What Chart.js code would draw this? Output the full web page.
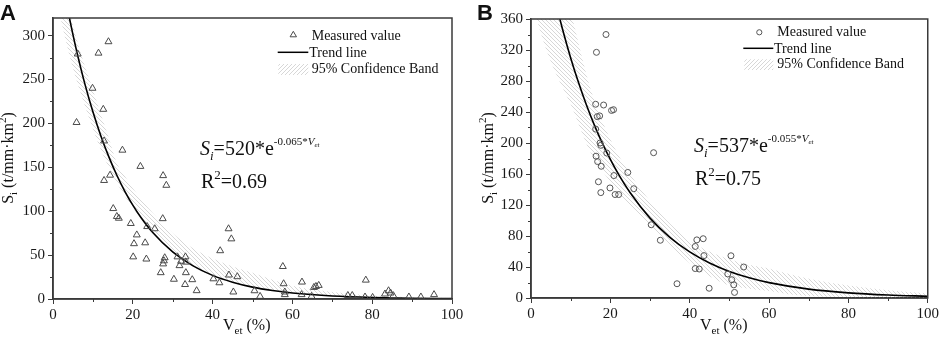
<!DOCTYPE html>
<html><head><meta charset="utf-8">
<script src="https://cdn.jsdelivr.net/npm/chart.js@4.4.1/dist/chart.umd.min.js"></script>
<style>
html,body{margin:0;padding:0;background:#fff;}
#wrap{position:relative;width:941px;height:338px;overflow:hidden;background:#fff;}
.p{position:absolute;top:0;height:338px;}
</style></head><body>
<div id="wrap">
<div class="p" style="left:0;width:470px"><canvas id="cA"></canvas></div>
<div class="p" style="left:470px;width:471px"><canvas id="cB"></canvas></div>
</div>
<script>
// ---------- Panel A data ----------
const aMeasuredX = [6.2,5.9,11.4,13.9,9.9,12.6,12.8,17.4,14.3,12.8,21.9,27.6,28.4,15.1,16.0,16.5,19.5,27.5,21.0,23.6,25.5,20.3,23.1,20.1,23.4,28.0,27.8,27.6,27.0,30.3,31.2,32.1,31.7,33.2,33.3,33.3,33.1,34.9,36.0,44.0,44.7,41.9,40.2,41.7,44.1,46.2,45.2,50.5,51.9,57.6,57.8,58.1,58.1,62.4,62.3,64.8,65.4,65.9,66.6,73.9,75.0,78.4,78.2,80.1,83.2,84.1,84.6,85.3,89.2,92.2,95.5];
const aMeasuredY = [279,201,280,293,240,216,180,169.5,141,135,151,140.5,129.5,103,94,92,86,91.5,73,82.5,80,63,64,48,45.5,47,43.5,40,30,22.5,48,43,38,48,42,30,16.5,22,9.5,80,68.5,55,23,18.5,27.3,25.4,8,9.4,3,37,17.4,8,5,19.3,5,3,13.2,14.3,15.5,4,4,21.5,2.3,1.8,5.7,9.4,6.8,3.8,2.3,2.3,5];
const aTrendX = [3,4,5,6,8,10,12,14,16,18,20,22,25,30,35,40,45,50,55,60,70,80,90,100];
const aTrendY = [345.6,322.5,301,280.9,244.7,213.2,185.7,161.8,140.9,122.7,106.9,93.1,75.7,53.6,38.0,26.9,19.1,13.5,9.6,6.8,3.4,1.7,0.85,0.43];
const aBandX = [0,2,4,6,8,10,12,14,16,18,20,25,30,35,40,45,50,60,70,80,90,100];
const aBandLow = [360,318,280,248,220,194,170,150,132,117,104,74,52,37,26,19,13.5,6.8,3.4,1.7,0.85,0.43];
const aBandHigh = [420,372,330,295,265,238,210,183,155,140,126,98,75,58,46,37,30,15,8,4,2,1];
const aXTicks = [0,20,40,60,80,100];
const aYTicks = [0,50,100,150,200,250,300];

// ---------- Panel B data ----------
const bMeasuredX = [18.9,16.5,16.3,18.3,20.8,20.3,17.3,16.7,16.3,17.4,17.6,19.1,30.9,16.4,16.8,17.7,20.9,24.4,17.0,19.9,25.9,17.6,21.2,22.1,30.3,32.6,41.4,41.8,43.4,43.6,41.4,42.4,36.8,44.9,50.4,53.6,49.6,50.6,51.1,51.3];
const bMeasuredY = [340,317,250,249,243,242,235,234,218,200,197,187,187.5,183,176,170,158,162,150,142,141,136,133.5,133.5,94.5,74.5,66.5,75,76.5,54.7,38,37.4,18.4,12.6,54.5,40,31,23.6,17,7.2];
const bTrendX = [6,8,10,12,14,16,18,20,22,25,30,35,40,45,50,55,60,70,80,90,100];
const bTrendY = [386,345.8,309.8,277.6,248.6,222.7,199.5,178.8,160.1,135.8,103.1,78.3,59.5,45.2,34.3,26.1,19.8,11.4,6.6,3.8,2.2];
const bBandX = [0,2,5,10,15,20,25,30,35,40,45,50,55,60,65,70,80,90,100];
const bBandLow = [390,350,305,250,188,150,118,92,68,45,28,16,12,9,5,2.5,0.8,0.2,0];
const bBandHigh = [580,520,470,370,270,205,160,125,96,74,60,50,43,38,31,25,16,10,6];
const bXTicks = [0,20,40,60,80,100];
const bYTicks = [0,40,80,120,160,200,240,280,320,360];

const SERIF = '"Liberation Serif","Times New Roman",serif';
const SANS = '"Liberation Sans",Arial,sans-serif';

function hatch(dir){
  const c = document.createElement('canvas'); c.width = 4; c.height = 4;
  const g = c.getContext('2d');
  g.strokeStyle = '#d2d2d2'; g.lineWidth = 0.9;
  g.beginPath();
  if (dir === '\\') {
    g.moveTo(-1,-1); g.lineTo(5,5); g.moveTo(-1,3); g.lineTo(1,5); g.moveTo(3,-1); g.lineTo(5,1);
  } else {
    g.moveTo(-1,5); g.lineTo(5,-1); g.moveTo(-1,1); g.lineTo(1,-1); g.moveTo(3,5); g.lineTo(5,3);
  }
  g.stroke();
  return g.createPattern(c,'repeat');
}
const bandPattern = hatch('\\');

function pts(xs, ys){ return xs.map((x,i)=>({x:x, y:ys[i]})); }

function rich(ctx, x, y, parts, align){
  let w = 0;
  parts.forEach(p => { ctx.font = p.f; p.w = ctx.measureText(p.t).width; w += p.w; });
  let cx = align === 'center' ? x - w/2 : x;
  parts.forEach(p => { ctx.font = p.f; ctx.fillText(p.t, cx, y + (p.dy||0)); cx += p.w; });
  return w;
}

function makePanel(id, o){
  const ctx = document.getElementById(id).getContext('2d');
  const legendHatch = hatch('/');
  const deco = {
    id: 'deco',
    afterDraw(chart){
      const c = chart.ctx, a = chart.chartArea;
      const xs = chart.scales.x, ys = chart.scales.y;
      c.save();
      c.strokeStyle = '#3a3a3a'; c.lineWidth = 1.5;
      c.strokeRect(a.left, a.top, a.right - a.left, a.bottom - a.top);
      c.lineWidth = 1; c.strokeStyle = '#3a3a3a';
      c.beginPath();
      o.xMinor.forEach(v => { const px = Math.round(xs.getPixelForValue(v)) + 0.5; c.moveTo(px, a.bottom); c.lineTo(px, a.bottom + 3); });
      o.yMinor.forEach(v => { const py = Math.round(ys.getPixelForValue(v)) + 0.5; c.moveTo(a.left, py); c.lineTo(a.left - 3, py); });
      c.stroke();
      c.fillStyle = '#111'; c.textBaseline = 'alphabetic'; c.textAlign = 'left';
      c.font = 'bold 22px ' + SANS;
      c.fillText(o.letter, o.letterX, 20);
      const F16 = '16px ' + SERIF, F11 = '11px ' + SERIF;
      rich(c, o.xTitleX, 330, [{t:'V', f:F16},{t:'et', f:F11, dy:4},{t:' (%)', f:F16}]);
      c.save();
      c.translate(o.yTitleX, 158); c.rotate(-Math.PI/2);
      rich(c, 0, 0, [{t:'S', f:F16},{t:'i', f:F11, dy:4},{t:' (t/mm\u00b7km', f:F16},{t:'2', f:F11, dy:-7},{t:')', f:F16}], 'center');
      c.restore();
      const E = '20px ' + SERIF, EI = 'italic 20px ' + SERIF, S13 = '13px ' + SERIF, SI13 = 'italic 13px ' + SERIF;
      rich(c, o.eqX, o.eqY, [{t:'S', f:EI},{t:'i', f:SI13, dy:5},{t:'=' + o.coef + '*e', f:E},{t:o.expo, f:'11px ' + SERIF, dy:-10},{t:'V', f:'italic 11px ' + SERIF, dy:-10},{t:'et', f:'italic 7px ' + SERIF, dy:-8}]);
      rich(c, o.eqX + 1, o.eqY + 33, [{t:'R', f:E},{t:'2', f:S13, dy:-9},{t:'=' + o.r2, f:E}]);
      const L = o.leg;
      c.font = '14px ' + SERIF;
      const ds = chart.data.datasets;
      c.strokeStyle = o.markColor; c.lineWidth = 1;
      if (o.marker === 'triangle') {
        c.beginPath(); c.moveTo(L.mx, L.my - 3.2); c.lineTo(L.mx + 3.2, L.my + 2.3); c.lineTo(L.mx - 3.2, L.my + 2.3); c.closePath(); c.stroke();
      } else {
        c.beginPath(); c.arc(L.mx, L.my, 2.6, 0, Math.PI*2); c.stroke();
      }
      c.fillText(ds[0].label, L.t1x, L.t1y);
      c.strokeStyle = '#000'; c.lineWidth = 1.5;
      c.beginPath(); c.moveTo(L.lx0, L.ly); c.lineTo(L.lx1, L.ly); c.stroke();
      c.fillText(ds[1].label, L.t2x, L.t2y);
      c.fillStyle = legendHatch;
      c.fillRect(L.bx0, L.by0, L.bx1 - L.bx0, L.by1 - L.by0);
      c.fillStyle = '#111';
      c.fillText(ds[2].label, L.t3x, L.t3y);
      c.restore();
    }
  };
  return new Chart(ctx, {
    type: 'line',
    data: {
      datasets: [
        { label: 'Measured value', data: pts(o.mx, o.my), showLine: false, pointStyle: o.marker,
          pointRadius: o.marker === 'triangle' ? 4 : 3, pointBorderColor: o.markColor, pointBackgroundColor: 'rgba(0,0,0,0)',
          pointBorderWidth: 1, order: 0 },
        { label: 'Trend line', data: pts(o.tx, o.ty), borderColor: '#000', borderWidth: 1.6, pointRadius: 0,
          cubicInterpolationMode: 'monotone', fill: false, order: 1 },
        { label: '95% Confidence Band', data: pts(o.bx, o.bh), borderWidth: 0, borderColor: 'rgba(0,0,0,0)', pointRadius: 0,
          cubicInterpolationMode: 'monotone', fill: '+1', backgroundColor: bandPattern, order: 2 },
        { label: 'band-low', data: pts(o.bx, o.bl), borderWidth: 0, borderColor: 'rgba(0,0,0,0)', pointRadius: 0,
          cubicInterpolationMode: 'monotone', fill: false, order: 3 }
      ]
    },
    options: {
      responsive: true, maintainAspectRatio: false, animation: false, devicePixelRatio: 1,
      layout: { padding: o.pad },
      plugins: { legend: { display: false }, tooltip: { enabled: false } },
      scales: {
        x: { type: 'linear', min: 0, max: 100,
          afterFit(s){ s.height = o.xH; },
          afterBuildTicks(s){ s.ticks = o.xTicks.map(v => ({value: v})); },
          ticks: { font: { family: SERIF, size: 15 }, color: '#1a1a1a', padding: 2, maxRotation: 0, autoSkip: false },
          grid: { drawOnChartArea: false, drawTicks: true, tickLength: 5, color: '#3a3a3a', tickWidth: 1 },
          border: { display: true, color: '#3a3a3a', width: 1.5 } },
        y: { type: 'linear', min: 0, max: o.yMax,
          afterFit(s){ s.width = o.yW; },
          afterBuildTicks(s){ s.ticks = o.yTicks.map(v => ({value: v})); },
          ticks: { font: { family: SERIF, size: 15 }, color: '#1a1a1a', padding: 3, autoSkip: false },
          grid: { drawOnChartArea: false, drawTicks: true, tickLength: 5, color: '#3a3a3a', tickWidth: 1 },
          border: { display: true, color: '#3a3a3a', width: 1.5 } }
      }
    },
    plugins: [deco]
  });
}

makePanel('cA', {
  mx: aMeasuredX, my: aMeasuredY, tx: aTrendX, ty: aTrendY, bx: aBandX, bl: aBandLow, bh: aBandHigh,
  xTicks: aXTicks, yTicks: aYTicks, xMinor: [10,30,50,70,90], yMinor: [25,75,125,175,225,275],
  yMax: 320, yW: 53, xH: 39, pad: {left:0, top:18, right:18, bottom:0},
  marker: 'triangle', markColor: '#4a4a4a', letter: 'A', letterX: 0,
  xTitleX: 223, yTitleX: 13, eqX: 200, eqY: 155, coef: '520', expo: '-0.065*', r2: '0.69',
  leg: { mx: 293.3, my: 34.5, t1x: 311.7, t1y: 40, lx0: 277.7, lx1: 308.3, ly: 52.3, t2x: 309.3, t2y: 56.7,
         bx0: 278.3, bx1: 308.3, by0: 64, by1: 75, t3x: 311.7, t3y: 73.3 }
});
makePanel('cB', {
  mx: bMeasuredX, my: bMeasuredY, tx: bTrendX, ty: bTrendY, bx: bBandX, bl: bBandLow, bh: bBandHigh,
  xTicks: bXTicks, yTicks: bYTicks, xMinor: [10,30,50,70,90], yMinor: [20,60,100,140,180,220,260,300,340],
  yMax: 360, yW: 61, xH: 40, pad: {left:0, top:19, right:12, bottom:0},
  marker: 'circle', markColor: '#555', letter: 'B', letterX: 7,
  xTitleX: 230, yTitleX: 23, eqX: 224, eqY: 152, coef: '537', expo: '-0.055*', r2: '0.75',
  leg: { mx: 289.3, my: 32.3, t1x: 307.3, t1y: 36, lx0: 273.3, lx1: 303.3, ly: 48.3, t2x: 304, t2y: 52.7,
         bx0: 274.3, bx1: 303.3, by0: 59.3, by1: 70, t3x: 307.3, t3y: 68.3 }
});
</script>
</body></html>
